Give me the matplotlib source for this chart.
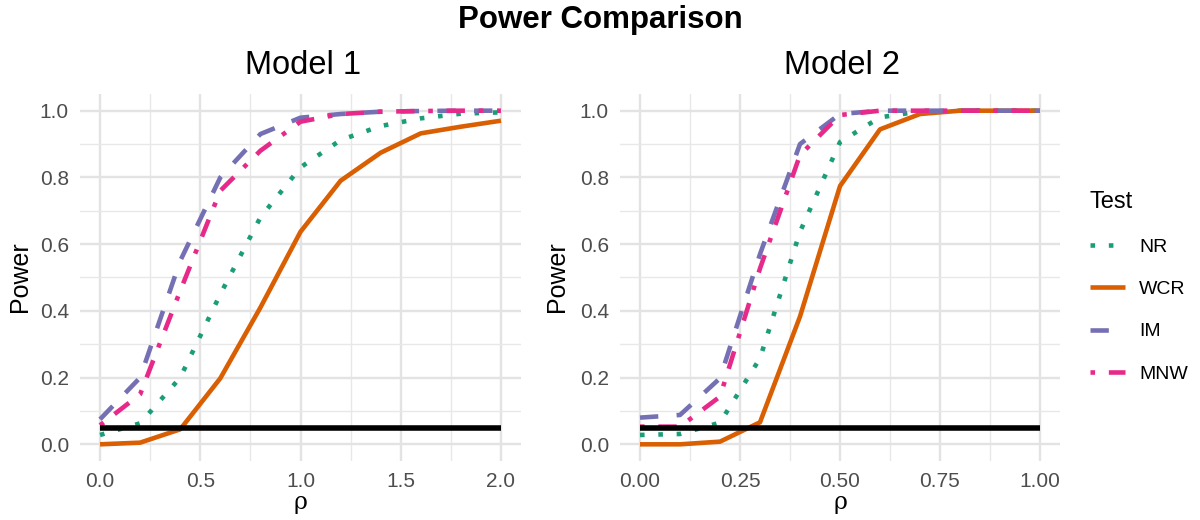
"""
Power comparison, two models
"""
import matplotlib
matplotlib.use('Agg')
import matplotlib.pyplot as plt
from matplotlib.lines import Line2D
from matplotlib.ticker import MultipleLocator

plt.rcParams['font.family'] = ['Liberation Sans', 'DejaVu Sans']

# Model 1
rho1 = [0.0, 0.2, 0.4, 0.6, 0.8, 1.0, 1.2, 1.4, 1.6, 1.8, 2.0]
nr1 = [0.028, 0.063, 0.20, 0.45, 0.68, 0.83, 0.912, 0.954, 0.977, 0.991, 0.995]
wcr1 = [0.0, 0.005, 0.045, 0.198, 0.41, 0.637, 0.79, 0.874, 0.932, 0.952, 0.97]
im1 = [0.075, 0.20, 0.55, 0.80, 0.93, 0.979, 0.99, 0.997, 0.999, 1.0, 1.0]
mnw1 = [0.057, 0.15, 0.46, 0.76, 0.88, 0.967, 0.99, 0.997, 0.999, 1.0, 1.0]

# Model 2
rho2 = [0.0, 0.1, 0.2, 0.3, 0.4, 0.5, 0.6, 0.7, 0.8, 0.9, 1.0]
nr2 = [0.028, 0.031, 0.065, 0.258, 0.637, 0.906, 0.98, 0.998, 1.0, 1.0, 1.0]
wcr2 = [0.0, 0.0, 0.008, 0.066, 0.383, 0.774, 0.944, 0.99, 1.0, 1.0, 1.0]
im2 = [0.08, 0.088, 0.198, 0.57, 0.90, 0.99, 1.0, 1.0, 1.0, 1.0, 1.0]
mnw2 = [0.053, 0.053, 0.143, 0.527, 0.867, 0.987, 1.0, 1.0, 1.0, 1.0, 1.0]

tests = ['NR', 'WCR', 'IM', 'MNW']
colors = ['#1B9E77', '#D95F02', '#7570B3', '#E7298A']
styles = [(0, (1, 3)), '-', (0, (4, 4)), (0, (1, 3, 4, 3))]
alpha_level = 0.05
lw = 3.3

fig = plt.figure(figsize=(12, 5.2), dpi=100)
ax1 = fig.add_axes([80 / 1200, 59 / 520, 441 / 1200, 367 / 520])
ax2 = fig.add_axes([620 / 1200, 59 / 520, 440 / 1200, 367 / 520])

panels = [
    (ax1, rho1, [nr1, wcr1, im1, mnw1], 0.5, 0.25, (-0.1, 2.1), '%.1f'),
    (ax2, rho2, [nr2, wcr2, im2, mnw2], 0.25, 0.125, (-0.05, 1.05), '%.2f'),
]
for ax, x, ys, major, minor, xlim, fmt in panels:
    for y, c, ls in zip(ys, colors, styles):
        ax.plot(x, y, color=c, linestyle=ls, linewidth=lw,
                solid_capstyle='butt', dash_capstyle='butt', zorder=3)
    ax.plot([x[0], x[-1]], [alpha_level, alpha_level], color='black',
            linewidth=4, solid_capstyle='butt', zorder=4)
    ax.set_xlim(*xlim)
    ax.set_ylim(-0.05, 1.05)
    ax.xaxis.set_major_locator(MultipleLocator(major))
    ax.xaxis.set_minor_locator(MultipleLocator(minor))
    ax.yaxis.set_major_locator(MultipleLocator(0.2))
    ax.yaxis.set_minor_locator(MultipleLocator(0.1))
    ax.xaxis.set_major_formatter(plt.FormatStrFormatter(fmt))
    ax.yaxis.set_major_formatter(plt.FormatStrFormatter('%.1f'))
    ax.grid(which='major', color='#E3E3E3', linewidth=1.7)
    ax.grid(which='minor', color='#E8E8E8', linewidth=1.0)
    ax.set_axisbelow(True)
    for s in ax.spines.values():
        s.set_visible(False)
    ax.tick_params(which='both', length=0)
    ax.tick_params(which='major', labelsize=15, labelcolor='#4D4D4D', pad=8)

# titles and labels
fig.text(0.5, 1 - 20 / 520, 'Power Comparison', ha='center', va='center',
         fontsize=22.5, fontweight='bold')
fig.text(303 / 1200, 1 - 66 / 520, 'Model 1', ha='center', va='center', fontsize=23.5)
fig.text(842 / 1200, 1 - 66 / 520, 'Model 2', ha='center', va='center', fontsize=23.5)
for xc in [300, 840]:
    fig.text(xc / 1200, 1 - 503 / 520, 'ρ', ha='center', va='center',
             fontsize=17, family=['DejaVu Serif'])
for xc in [20, 557]:
    fig.text(xc / 1200, 1 - 277 / 520, 'Power', ha='center', va='center',
             fontsize=18, rotation=90)

handles = [Line2D([], [], color=c, linestyle=ls, linewidth=lw,
                  solid_capstyle='butt', dash_capstyle='butt')
           for c, ls in zip(colors, styles)]
leg = fig.legend(handles, tests, loc='upper left',
                 bbox_to_anchor=(1072 / 1200, 1 - 174 / 520),
                 title='Test', frameon=False, fontsize=14, title_fontsize=17,
                 handlelength=1.8, handletextpad=0.75, labelspacing=1.27,
                 alignment='left')

fig.savefig('out.png', dpi=100)
